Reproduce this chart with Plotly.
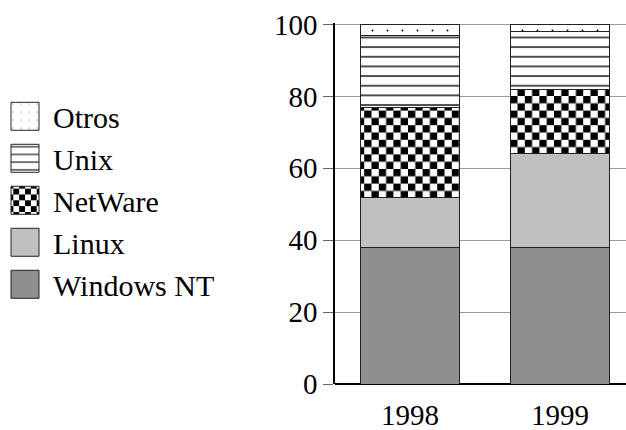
import plotly.graph_objects as go

years = ["1998", "1999"]
series_names = ["Windows NT", "Linux", "NetWare", "Unix", "Otros"]
windows_nt = [38, 38]
linux = [14, 26]
netware = [25, 18]
unix = [20, 16]
otros = [3, 2]
y_ticks = [0, 20, 40, 60, 80, 100]

values = [windows_nt, linux, netware, unix, otros]

styles = {
    "Windows NT": dict(color="#8f8f8f"),
    "Linux": dict(color="#c0c0c0"),
    "NetWare": dict(color="#ffffff", pattern=dict(shape="+", fgcolor="#010101", bgcolor="#ffffff", size=14.6, solidity=0.5, fillmode="replace")),
    "Unix": dict(color="#ffffff", pattern=dict(shape="-", fgcolor="#000000", bgcolor="#ffffff", size=9.65, solidity=0.14, fillmode="replace")),
    "Otros": dict(color="#ffffff", pattern=dict(shape=".", fgcolor="#000000", bgcolor="#ffffff", size=15, solidity=0.012, fillmode="replace")),
}

FONT = "Liberation Serif"
FS = 29

fig = go.Figure()
for name, vals in zip(series_names, values):
    st = styles[name]
    marker = dict(color=st["color"], line=dict(color="#222222", width=1))
    if "pattern" in st:
        marker["pattern"] = st["pattern"]
    fig.add_trace(go.Bar(x=years, y=vals, name=name, marker=marker, width=0.66))

fig.update_layout(
    width=626, height=430,
    margin=dict(l=335, r=0, t=23, b=46, autoexpand=False),
    barmode="stack",
    plot_bgcolor="white", paper_bgcolor="white",
    font=dict(family=FONT, size=FS, color="black"),
    showlegend=True,
    legend=dict(
        traceorder="reversed",
        xref="paper", yref="paper",
        x=-1.1615, y=0.8136, xanchor="left", yanchor="top",
        font=dict(family=FONT, size=30, color="black"),
        itemwidth=46,
        bgcolor="rgba(0,0,0,0)",
    ),
    xaxis=dict(
        range=[-0.5, 1.44], showgrid=False, ticks="", showline=False,
        tickfont=dict(family=FONT, size=FS), zeroline=False,
        ticklabelstandoff=11,
    ),
    yaxis=dict(
        range=[0, 100.4], tickvals=y_ticks, showgrid=True, gridcolor="#999999", gridwidth=1,
        ticks="outside", ticklen=10, tickcolor="#666666", tickwidth=1,
        showline=True, linecolor="black", linewidth=1.5,
        zeroline=True, zerolinecolor="black", zerolinewidth=2,
        tickfont=dict(family=FONT, size=FS),
        ticklabelstandoff=0,
    ),
)

post = r"""
document.body.style.margin = '0';
document.body.style.padding = '0';
var gd = document.getElementById('{plot_id}');
function fixPatterns(){
  var ns = 'http://www.w3.org/2000/svg';
  gd.querySelectorAll('pattern').forEach(function(p){
    var h = p.outerHTML;
    if (h.indexOf('rgb(1, 1, 1)') >= 0 || h.indexOf('#010101') >= 0 || h.indexOf('rgb(1,1,1)') >= 0){
      var s = 7.3;
      p.setAttribute('width', 2*s); p.setAttribute('height', 2*s);
      while (p.firstChild) p.removeChild(p.firstChild);
      [[0,0,2*s,2*s,'#ffffff'],[0,0,s,s,'#000000'],[s,s,s,s,'#000000']].forEach(function(r){
        var e = document.createElementNS(ns, 'rect');
        e.setAttribute('x', r[0]); e.setAttribute('y', r[1]);
        e.setAttribute('width', r[2]); e.setAttribute('height', r[3]);
        e.setAttribute('fill', r[4]);
        p.appendChild(e);
      });
    }
  });
  gd.querySelectorAll('.legend .legendpoints path').forEach(function(e){
    e.setAttribute('d', 'M14,14H-14V-14H14Z');
  });
}
fixPatterns();
gd.on('plotly_afterplot', fixPatterns);
"""

fig.write_html("out.html", post_script=post, config={"displayModeBar": False})
